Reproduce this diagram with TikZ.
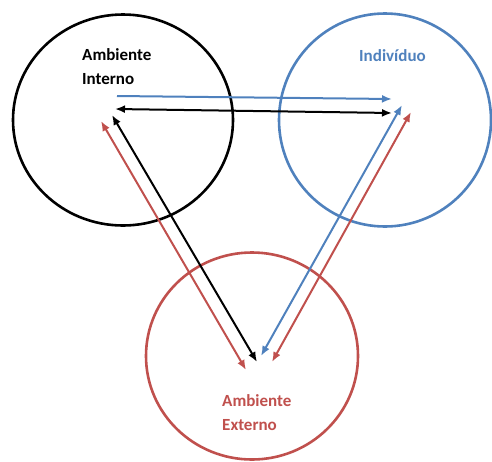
\documentclass[tikz,border=0pt]{standalone}
\usepackage{fontspec}
\setmainfont{Carlito}
\usetikzlibrary{shapes.geometric,arrows.meta}
\definecolor{offblue}{HTML}{4F81BD}
\definecolor{offred}{HTML}{C0504D}
\begin{document}
\begin{tikzpicture}[x=1pt,y=-1pt,
  ring/.style={draw,ellipse,line width=2.6pt,inner sep=0pt},
  lbl/.style={font=\fontsize{17}{24}\selectfont\bfseries,align=left,anchor=north west,inner sep=0pt},
  link/.style={line width=2pt,{Latex[length=10pt,width=8pt]}-{Latex[length=10pt,width=8pt]}},
  onelink/.style={line width=2pt,-{Latex[length=10pt,width=8pt]}}]
\useasboundingbox (0,0) rectangle (492,461);
% the three spheres
\node[ring,minimum width=220pt,minimum height=211pt] (interno) at (123,120) {};
\node[ring,draw=offblue,minimum width=212pt,minimum height=213pt] (individuo) at (385,120) {};
\node[ring,draw=offred,minimum width=212pt,minimum height=207pt] (externo) at (252,356) {};
% labels
\node[lbl] (tInterno) at (82,48) {Ambiente\\Interno};
\node[lbl,text=offblue] (tIndividuo) at (359,49) {Indivíduo};
\node[lbl,text=offred] (tExterno) at (222,394) {Ambiente\\Externo};
% arrow end points
\coordinate (bhA) at (117,96);
\coordinate (bhB) at (392,99);
\coordinate (khA) at (115,109);
\coordinate (khB) at (392,113);
\coordinate (kdA) at (112,115);
\coordinate (kdB) at (257,362);
\coordinate (rdA) at (101,121);
\coordinate (rdB) at (246,370);
\coordinate (bdA) at (402,105);
\coordinate (bdB) at (261,356);
\coordinate (rrA) at (411,112);
\coordinate (rrB) at (272,362);
% connectors
\draw[onelink,offblue] (bhA) -- (bhB);
\draw[link] (khA) -- (khB);
\draw[link] (kdA) -- (kdB);
\draw[link,offred] (rdA) -- (rdB);
\draw[link,offblue] (bdA) -- (bdB);
\draw[link,offred] (rrA) -- (rrB);
\end{tikzpicture}
\end{document}
